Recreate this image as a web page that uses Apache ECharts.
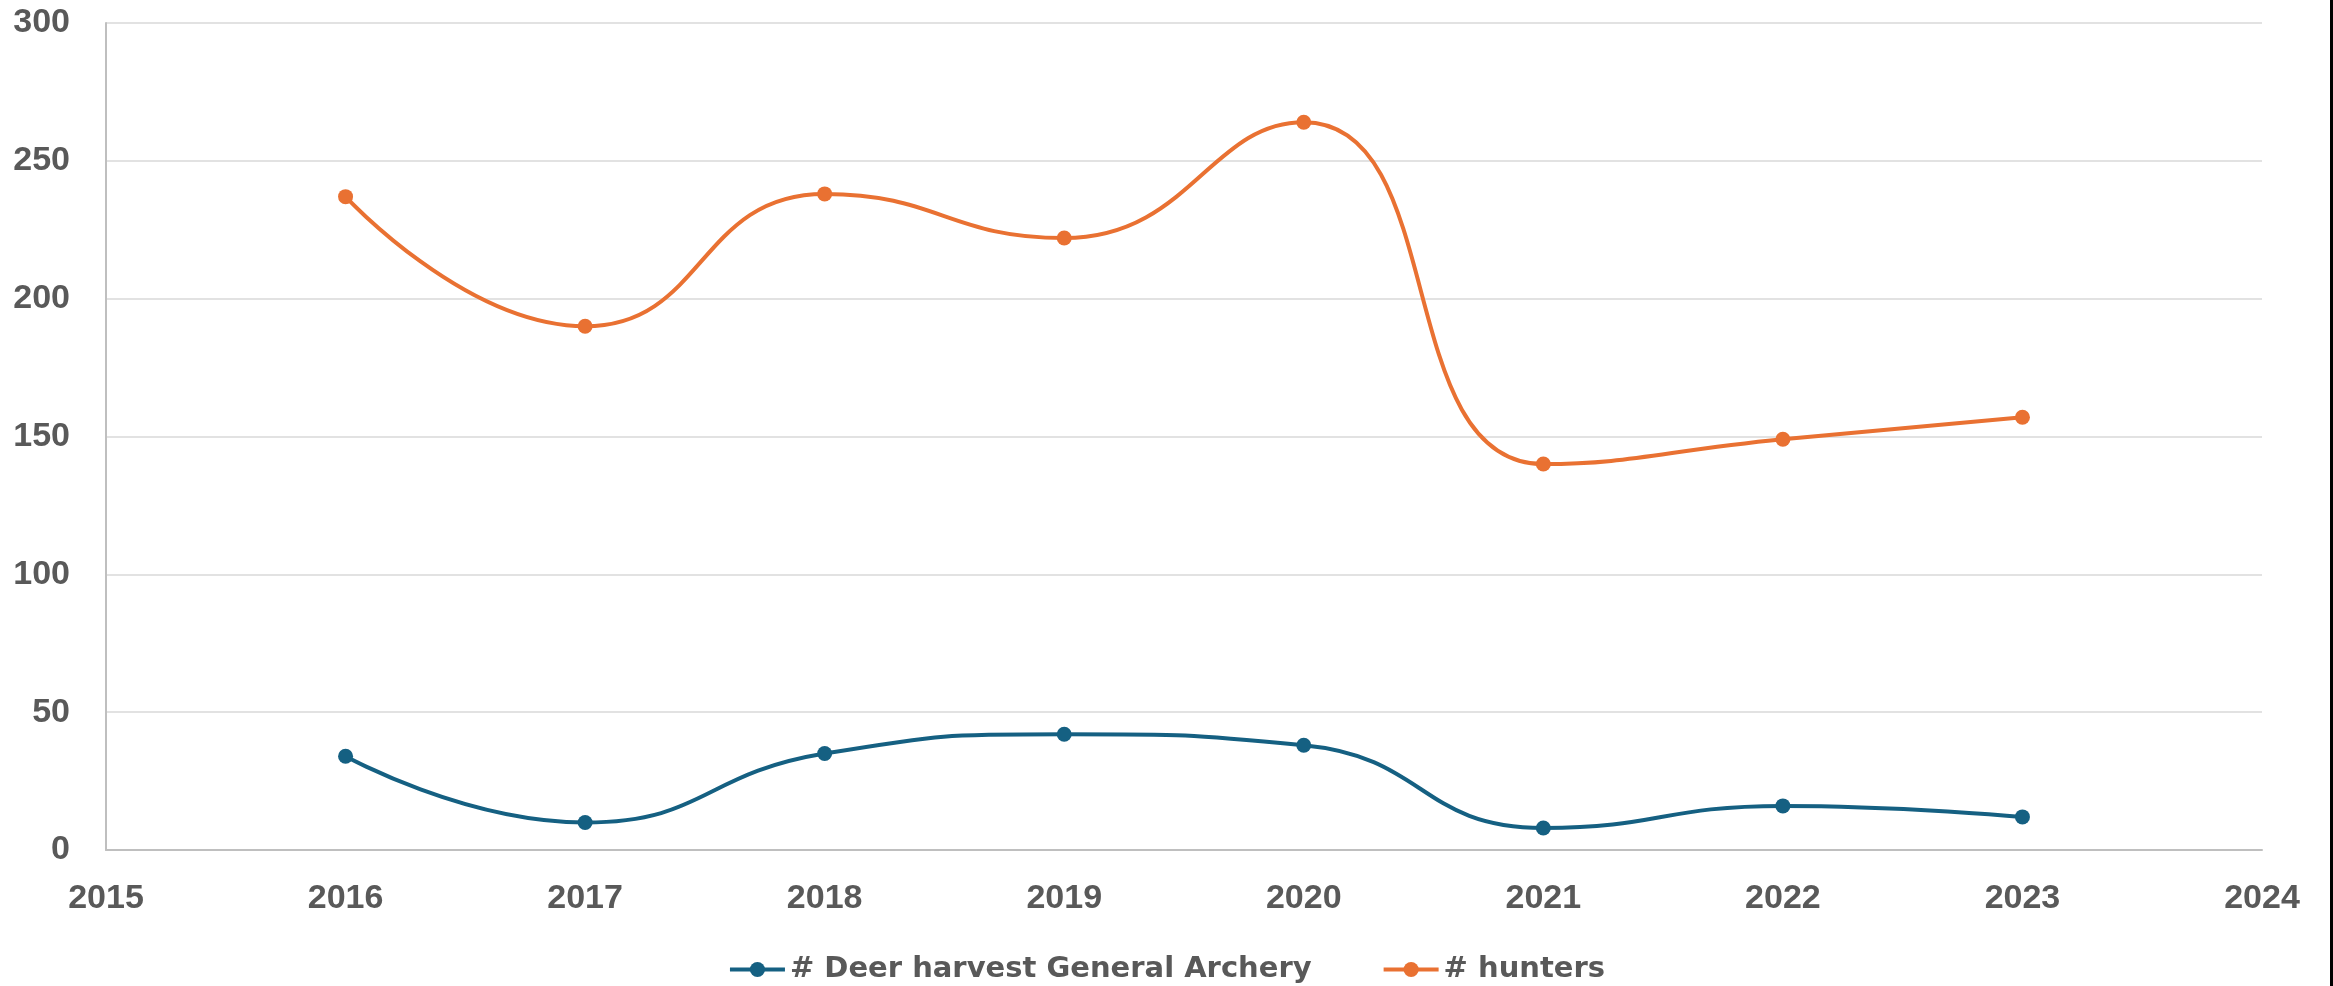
<!DOCTYPE html>
<html>
<head>
<meta charset="utf-8">
<script src="https://cdn.jsdelivr.net/npm/echarts@6/dist/echarts.min.js"></script>
<style>
  html, body { margin: 0; padding: 0; background: #fff; }
  #chart { width: 2333px; height: 986px; }
</style>
</head>
<body>
<div id="chart"></div>
<script>
// data
var years = [2016, 2017, 2018, 2019, 2020, 2021, 2022, 2023]
var deerHarvest = [34, 10, 35, 42, 38, 8, 16, 12]
var hunters = [237, 190, 238, 222, 264, 140, 149, 157]
var seriesNames = ['# Deer harvest General Archery', '# hunters']
var colorList = ['#156082', '#E97132']

var textColor = '#595959'
var axisFont = 'Liberation Sans, Arial, sans-serif'
var legendFont = 'DejaVu Sans, sans-serif'

function pairs(vals) {
  return years.map(function (y, i) { return [y, vals[i]] })
}

var myChart = echarts.init(document.getElementById('chart'))

var option = {
  color: colorList,
  animation: false,
  grid: {
    left: 106,
    right: 71,
    top: 23,
    bottom: 136
  },
  legend: {
    top: 950,
    left: 'center',
    itemWidth: 55,
    itemHeight: 19,
    itemGap: 70,
    lineStyle: { width: 4 },
    textStyle: {
      color: textColor,
      fontSize: 29,
      fontWeight: 'bold',
      fontFamily: legendFont
    },
    data: seriesNames
  },
  // thin dark frame on the right edge of the picture
  graphic: [
    {
      type: 'rect',
      right: 0,
      top: 0,
      shape: { width: 3, height: 986 },
      style: { fill: '#000' },
      silent: true
    }
  ],
  xAxis: {
    type: 'value',
    min: 2015,
    max: 2024,
    interval: 1,
    axisLine: { show: true, lineStyle: { color: '#BFBFBF', width: 2 } },
    axisTick: { show: false },
    splitLine: { show: false },
    axisLabel: {
      color: textColor,
      fontSize: 34,
      fontWeight: 'bold',
      fontFamily: axisFont,
      margin: 32,
      formatter: function (v) { return String(v) }
    }
  },
  yAxis: {
    type: 'value',
    min: 0,
    max: 300,
    interval: 50,
    axisLine: { show: true, lineStyle: { color: '#BFBFBF', width: 2 } },
    axisTick: { show: false },
    splitLine: { show: true, lineStyle: { color: '#D9D9D9', width: 1.5 } },
    axisLabel: {
      color: textColor,
      fontSize: 34,
      fontWeight: 'bold',
      fontFamily: axisFont,
      margin: 36
    }
  },
  series: [
    {
      name: seriesNames[0],
      type: 'line',
      smooth: 0.5,
      symbol: 'circle',
      symbolSize: 15,
      lineStyle: { width: 4 },
      data: pairs(deerHarvest)
    },
    {
      name: seriesNames[1],
      type: 'line',
      smooth: 0.5,
      symbol: 'circle',
      symbolSize: 15,
      lineStyle: { width: 4 },
      data: pairs(hunters)
    }
  ]
}

myChart.setOption(option)
window.addEventListener('resize', function () {
  myChart.resize()
})
</script>
</body>
</html>
